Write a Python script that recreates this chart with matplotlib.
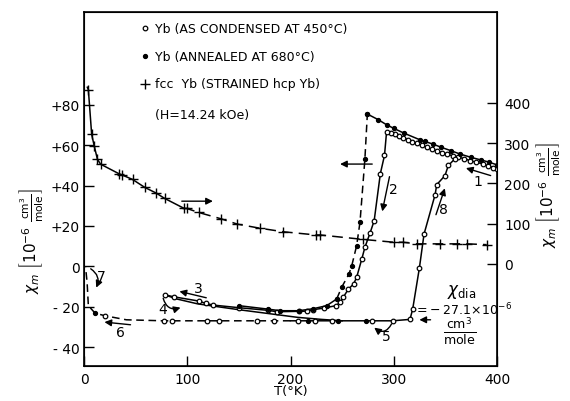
import matplotlib
matplotlib.use('Agg')
import matplotlib.pyplot as plt

plt.rcParams['font.family'] = ['DejaVu Sans']
plt.rcParams['mathtext.fontset'] = 'dejavusans'

# === data (left axis, 10^-6 cm3/mole) ===
# as condensed: cooling 1 -> 2 -> 3
T_cool = [400, 396, 391, 386, 380, 374, 368, 362, 357, 352, 347, 342, 337, 332, 327,
          322, 318, 314, 309, 305, 301, 297, 293, 291, 287, 281, 277, 272, 269, 264,
          261, 256, 251, 248, 244, 232, 222, 216, 208, 187, 178, 150, 125, 118, 111, 87, 78]
X_cool = [48.2, 49.0, 49.9, 50.8, 51.6, 52.4, 53.4, 54.2, 54.8, 55.6, 56.4, 57.2, 58.0, 59.0, 60.0,
          61.0, 61.8, 62.8, 63.8, 64.8, 65.6, 66.2, 66.6, 55.0, 46.0, 22.6, 16.5, 9.4, 3.6, -5.5,
          -8.8, -11.3, -15.4, -17.9, -19.5, -20.7, -21.5, -22.2, -22.3, -22.5, -21.8, -20.5, -19.2, -18.4, -17.2, -15.1, -14.1]
# path 4: warming back from 78 K
T_back = [78, 90, 110, 150, 180, 207, 230, 250]
X_back = [-14.1, -16.2, -18.6, -21.5, -23.5, -25.3, -26.3, -27.0]
# flat line and rise (8)
T_rise = [200, 207.5, 224, 240, 279, 299, 315.7, 318.3, 324.8, 329.3, 340, 341.6, 349.6, 352.8, 359]
X_rise = [-27, -27, -27, -27, -27, -27, -26.3, -21.2, -0.8, 16.0, 35.5, 40.5, 45.0, 50.0, 53.2]
# low temperature dashed branch (5, 6, 7)
T_low = [200, 184, 168, 131, 119, 85.5, 77, 41, 20.3, 10.7, 4.2, 3.0, 1.5]
X_low = [-27, -27, -27, -27, -27, -27, -27, -26.5, -24.5, -23.2, -19.5, -8.0, -0.5]
# annealed
T_ann_lo = [150, 178, 190, 208, 222, 235, 244.7]
X_ann_lo = [-19.5, -21.2, -22.0, -22.0, -21.0, -19.5, -16.2]
T_ann_up = [244.7, 249.5, 256.6, 259.3, 264, 267.3, 272, 274.4]
X_ann_up = [-16.2, -10.4, -3.8, 0.3, 10.2, 22.0, 53.0, 75.5]
T_ann_top = [274.4, 285, 293, 300, 310, 325, 330, 338, 346, 355, 364, 375, 384, 392, 400]
X_ann_top = [75.5, 72.7, 70.2, 68.4, 66.0, 62.8, 61.9, 60.6, 59.0, 57.4, 55.7, 54.0, 52.8, 51.7, 50.3]
T_ann_flat = [217, 246, 273]
X_ann_flat = [-27, -27, -27]

# fcc Yb (right axis)
T_fcc = [3.2, 4.2, 7.4, 10, 13, 16, 34, 37, 47, 59, 70, 78, 97, 99.5, 111, 133, 148.5,
         170, 193, 225, 229, 270.5, 300, 309, 322, 345, 361, 371, 390]
R_fcc = [439, 433, 322, 292, 260, 248, 224, 221, 210, 190, 176, 163, 138, 138, 128, 112, 99,
         89, 80, 72, 72, 61, 54, 54, 50, 50, 50, 50, 48]

left_ticks = [80, 60, 40, 20, 0, -20, -40]
left_labels = ['+80', '+60', '+40', '+20', '0', '- 20', '- 40']
right_ticks = [0, 100, 200, 300, 400]
x_ticks = [0, 100, 200, 300, 400]

fig = plt.figure(figsize=(5.7, 4.02), dpi=100)
ax = fig.add_axes([0.1474, 0.0871, 0.7246, 0.8806])
ax2 = ax.twinx()

ax.set_xlim(0, 400)
ax.set_ylim(-49.4, 126.1)
ax2.set_ylim(-253.4, 626)

lw = 1.1
k = 'black'
# condensed
ax.plot(T_cool, X_cool, '-', color=k, lw=lw, marker='o', ms=3.3, mfc='white', mec=k, mew=0.9, zorder=3)
ax.plot(T_back, X_back, '-', color=k, lw=lw, zorder=2)
ax.plot(T_rise, X_rise, '-', color=k, lw=lw, zorder=2)
ax.plot(T_rise[1:], X_rise[1:], 'o', ms=3.3, mfc='white', mec=k, mew=0.9, zorder=4)
ax.plot(T_low, X_low, '--', color=k, lw=lw, dashes=(5, 3), zorder=2)
ax.plot([184, 168, 131, 119, 85.5, 77, 20.3], [-27, -27, -27, -27, -27, -27, -24.5], 'o',
        ms=3.3, mfc='white', mec=k, mew=0.9, zorder=4)
# annealed
ax.plot(T_ann_lo, X_ann_lo, '-', color=k, lw=lw, marker='o', ms=2.8, mfc=k, mec=k, zorder=3)
ax.plot(T_ann_up, X_ann_up, '--', color=k, lw=lw, dashes=(5, 3), marker='o', ms=2.8, mfc=k, zorder=3)
ax.plot(T_ann_top, X_ann_top, '-', color=k, lw=lw, marker='o', ms=2.8, mfc=k, mec=k, zorder=3)
ax.plot(T_ann_flat, X_ann_flat, 'o', ms=2.8, color=k, zorder=4)
ax.plot([10.7], [-23.2], 'o', ms=2.8, color=k, zorder=4)

# fcc
n = T_fcc.index(97)
ax2.plot(T_fcc[:n + 1], R_fcc[:n + 1], '-', color=k, lw=lw)
ax2.plot(T_fcc[n:], R_fcc[n:], '--', color=k, lw=lw, dashes=(7, 4))
ax2.plot(T_fcc[1:], R_fcc[1:], '+', color=k, ms=6.5, mew=1.0)

# axes styling
ax.set_xticks(x_ticks)
ax.set_yticks(left_ticks)
ax.set_yticklabels(left_labels)
ax2.set_yticks(right_ticks)
ax.tick_params(axis='both', direction='in', length=7, width=1, labelsize=10, pad=3)
ax.tick_params(axis='x', pad=4)
ax2.tick_params(axis='y', direction='in', length=7, width=1, labelsize=10, pad=5)
for s in ax.spines.values():
    s.set_linewidth(1.2)

ax.set_xlabel('T(°K)', fontsize=9.5, labelpad=-1)
fig.text(0.055, 0.40, r'$\chi_m\ \left[10^{-6}\ \frac{\mathrm{cm}^3}{\mathrm{mole}}\right]$',
         rotation=90, ha='center', va='center', fontsize=11)
fig.text(0.962, 0.515, r'$\chi_m\ \left[10^{-6}\ \frac{\mathrm{cm}^3}{\mathrm{mole}}\right]$',
         rotation=90, ha='center', va='center', fontsize=11)

# legend text
ax.plot([59], [118.1], 'o', ms=3.3, mfc='white', mec=k, mew=0.9)
ax.plot([59], [104.2], 'o', ms=2.8, color=k)
ax.plot([59], [90.4], '+', ms=6.5, color=k, mew=1.0)
ax.text(69, 118.1, 'Yb (AS CONDENSED AT 450°C)', fontsize=9, va='center')
ax.text(69, 104.2, 'Yb (ANNEALED AT 680°C)', fontsize=9, va='center')
ax.text(69, 90.4, 'fcc  Yb (STRAINED hcp Yb)', fontsize=9, va='center')
ax.text(69, 75.5, '(H=14.24 kOe)', fontsize=9, va='center')

# arrows
ap = dict(arrowstyle='-|>', color=k, lw=1.0, mutation_scale=10)
ax2.annotate('', xy=(127.5, 156), xytext=(92, 156), arrowprops=ap)
ax.annotate('', xy=(245.3, 50.7), xytext=(281.8, 50.7), arrowprops=ap)
ax.annotate('', xy=(367.3, 49.1), xytext=(396.4, 44.6), arrowprops=ap)
ax.annotate('', xy=(288.3, 25.9), xytext=(296.4, 45.8), arrowprops=ap)
ax.annotate('', xy=(350.3, 40.0), xytext=(340, 24.3), arrowprops=ap)
ax.annotate('', xy=(89.8, -12.1), xytext=(121, -15.9), arrowprops=ap)
ax.annotate('', xy=(96, -20.0), xytext=(76, -14.5),
            arrowprops=dict(ap, connectionstyle='arc3,rad=0.6'))
ax.annotate('', xy=(279, -29.5), xytext=(299, -27.3),
            arrowprops=dict(ap, connectionstyle='arc3,rad=-0.7'))
ax.annotate('', xy=(17.1, -27.5), xytext=(47.7, -29.1), arrowprops=ap)
ax.annotate('', xy=(10.6, -11.8), xytext=(4.2, -0.5),
            arrowprops=dict(ap, connectionstyle='arc3,rad=-0.5'))
ax.annotate('', xy=(322.1, -26.5), xytext=(338.3, -26.5), arrowprops=ap)

fs = 10
ax.text(381.9, 42.4, '1', fontsize=fs, ha='center', va='center')
ax.text(299.6, 38.3, '2', fontsize=fs, ha='center', va='center')
ax.text(110.7, -10.9, '3', fontsize=fs, ha='center', va='center')
ax.text(75.8, -21.2, '4', fontsize=fs, ha='center', va='center')
ax.text(293, -34.4, '5', fontsize=fs, ha='center', va='center')
ax.text(35.5, -32.4, '6', fontsize=fs, ha='center', va='center')
ax.text(17.1, -4.7, '7', fontsize=fs, ha='center', va='center')
ax.text(348, 28.4, '8', fontsize=fs, ha='center', va='center')

ax.text(366, -12.1, r'$\chi_{\mathrm{dia}}$', fontsize=12, ha='center', va='center')
ax.text(367, -21.0, r'$=\!-27.1\!\times\!10^{-6}$', fontsize=9, ha='center', va='center')
ax.text(364, -31.5, r'$\frac{\mathrm{cm}^3}{\mathrm{mole}}$', fontsize=13, ha='center', va='center')

fig.savefig('out.png', dpi=100)
